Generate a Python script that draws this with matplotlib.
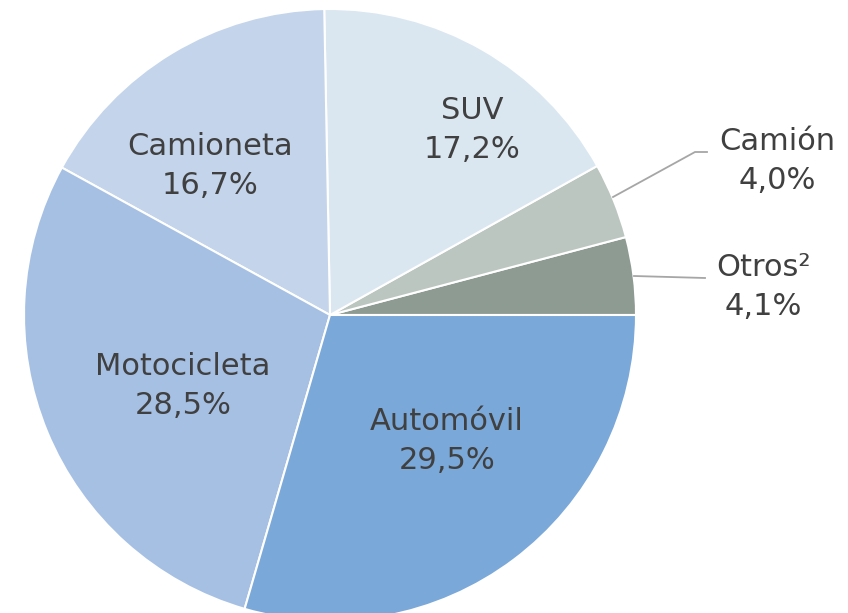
import matplotlib
matplotlib.use("Agg")
import matplotlib.pyplot as plt

labels = ['Otros²', 'Camión', 'SUV', 'Camioneta', 'Motocicleta', 'Automóvil']
values = [4.1, 4.0, 17.2, 16.7, 28.5, 29.5]
colors = ['#8e9b92', '#bcc6c0', '#dae7f1', '#c3d4eb', '#a6c0e4', '#7aa8d9']

# label positions in pixels (figure drawn 1:1 in pixel coords)
label_pos = {
    'Otros²': (763, 326),
    'Camión': (777, 452),
    'SUV': (472, 483),
    'Camioneta': (210, 447),
    'Motocicleta': (183, 227),
    'Automóvil': (447, 172),
}

fig = plt.figure(figsize=(8.48, 6.13), dpi=100)
ax = fig.add_axes([0, 0, 1, 1])

wedges, _ = ax.pie(values, colors=colors, startangle=0, counterclock=True,
                   center=(330, 298), radius=306,
                   wedgeprops=dict(edgecolor='white', linewidth=1.5))
ax.set_xlim(0, 848)
ax.set_ylim(0, 613)
ax.set_aspect('equal')
ax.axis('off')

txt_color = '#404040'
for lab, val in zip(labels, values):
    x, y = label_pos[lab]
    s = f"{lab}\n{val:.1f}%".replace('.', ',')
    ax.text(x, y, s, ha='center', va='center', fontsize=22, color=txt_color,
            linespacing=1.4, family='DejaVu Sans')

# leader lines
ax.plot([613, 695, 707], [416, 461, 461], color='#a6a6a6', lw=1.3)
ax.plot([634, 705], [337, 335], color='#a6a6a6', lw=1.3)

fig.savefig('out.png', dpi=100)
